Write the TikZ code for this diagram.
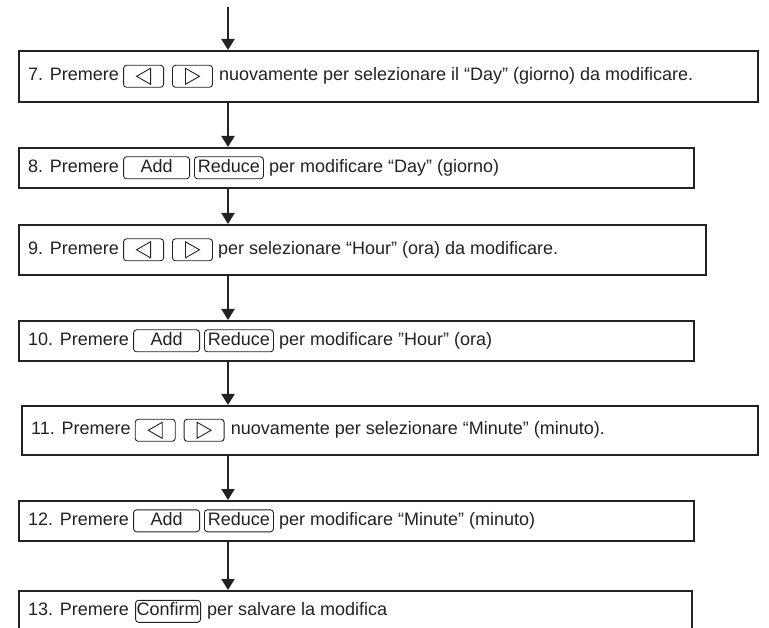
\documentclass[tikz,border=0pt]{standalone}
\usepackage{fontspec}
\setmainfont{Liberation Sans}
\usetikzlibrary{arrows.meta,calc}
\definecolor{ink}{HTML}{222222}
\begin{document}
\begin{tikzpicture}[x=1pt,y=-1pt,
  stepbox/.style={draw=ink, line width=1.6pt, rectangle, inner sep=0pt, anchor=north west},
  txt/.style={inner sep=0pt, font=\fontsize{18}{21}\selectfont, text=ink, text height=13pt, text depth=4pt, anchor=west},
  key/.style={draw=ink, line width=0.9pt, rounded corners=3pt, inner sep=0pt, minimum height=22pt,
    font=\fontsize{18}{21}\selectfont, text=ink, text height=13pt, text depth=4pt, anchor=west},
  leftkey/.style={key, minimum width=40pt, path picture={\draw[ink, line width=0.9pt, sharp corners]
    ($(path picture bounding box.center)+(-7pt,0pt)$) -- ++(14pt,8pt) -- ++(0pt,-16pt) -- cycle;}},
  rightkey/.style={key, minimum width=40pt, path picture={\draw[ink, line width=0.9pt, sharp corners]
    ($(path picture bounding box.center)+(7pt,0pt)$) -- ++(-14pt,8pt) -- ++(0pt,-16pt) -- cycle;}},
  addkey/.style={key, minimum width=66pt},
  redkey/.style={key, minimum width=69pt},
  confkey/.style={key, minimum width=65pt},
  flow/.style={draw=ink, line width=2.2pt, -{Triangle[width=13pt,length=11pt]}}
]
\useasboundingbox (0,0) rectangle (769,628);
\clip (0,0) rectangle (769,628);

% boxes
\node[stepbox, minimum width=739pt, minimum height=51pt] (b7)  at (18,50)  {};
\node[stepbox, minimum width=675pt, minimum height=40pt] (b8)  at (18,147) {};
\node[stepbox, minimum width=687pt, minimum height=50pt] (b9)  at (18,224) {};
\node[stepbox, minimum width=675pt, minimum height=40pt] (b10) at (18,320) {};
\node[stepbox, minimum width=736pt, minimum height=49pt] (b11) at (21,405) {};
\node[stepbox, minimum width=675pt, minimum height=40pt] (b12) at (18,500) {};
\node[stepbox, minimum width=673pt, minimum height=41pt] (b13) at (18,590) {};

% row 7
\node[txt] (p7) at ([xshift=10pt]b7.west) {7. Premere};
\node[leftkey] (l7) at ([xshift=4pt]p7.east) {};
\node[rightkey] (r7) at ([xshift=8pt]l7.east) {};
\node[txt] (q7) at ([xshift=6pt]r7.east) {nuovamente per selezionare il “Day” (giorno) da modificare.};

% row 8
\node[txt] (p8) at ([xshift=10pt]b8.west) {8. Premere};
\node[addkey] (a8) at ([xshift=4pt]p8.east) {Add};
\node[redkey] (d8) at ([xshift=4pt]a8.east) {Reduce};
\node[txt] (q8) at ([xshift=5pt]d8.east) {per modificare “Day” (giorno)};

% row 9
\node[txt] (p9) at ([xshift=10pt]b9.west) {9. Premere};
\node[leftkey] (l9) at ([xshift=4pt]p9.east) {};
\node[rightkey] (r9) at ([xshift=8pt]l9.east) {};
\node[txt] (q9) at ([xshift=5pt]r9.east) {per selezionare “Hour” (ora) da modificare.};

% row 10
\node[txt] (p10) at ([xshift=10pt]b10.west) {10. Premere};
\node[addkey] (a10) at ([xshift=4pt]p10.east) {Add};
\node[redkey] (d10) at ([xshift=4pt]a10.east) {Reduce};
\node[txt] (q10) at ([xshift=5pt]d10.east) {per modificare ”Hour” (ora)};

% row 11
\node[txt] (p11) at ([xshift=10pt]b11.west) {11. Premere};
\node[leftkey] (l11) at ([xshift=4pt]p11.east) {};
\node[rightkey] (r11) at ([xshift=8pt]l11.east) {};
\node[txt] (q11) at ([xshift=6pt]r11.east) {nuovamente per selezionare “Minute” (minuto).};

% row 12
\node[txt] (p12) at ([xshift=10pt]b12.west) {12. Premere};
\node[addkey] (a12) at ([xshift=4pt]p12.east) {Add};
\node[redkey] (d12) at ([xshift=4pt]a12.east) {Reduce};
\node[txt] (q12) at ([xshift=5pt]d12.east) {per modificare “Minute” (minuto)};

% row 13
\node[txt] (p13) at ([xshift=10pt]b13.west) {13. Premere};
\node[confkey] (c13) at ([xshift=6pt]p13.east) {Confirm};
\node[txt] (q13) at ([xshift=6pt]c13.east) {per salvare la modifica};

% connectors
\coordinate (top) at (228,7);
\draw[flow] (top) -- (top |- b7.north);
\draw[flow] (top |- b7.south) -- (top |- b8.north);
\draw[flow] (top |- b8.south) -- (top |- b9.north);
\draw[flow] (top |- b9.south) -- (top |- b10.north);
\draw[flow] (top |- b10.south) -- (top |- b11.north);
\draw[flow] (top |- b11.south) -- (top |- b12.north);
\draw[flow] (top |- b12.south) -- (top |- b13.north);
\end{tikzpicture}
\end{document}
